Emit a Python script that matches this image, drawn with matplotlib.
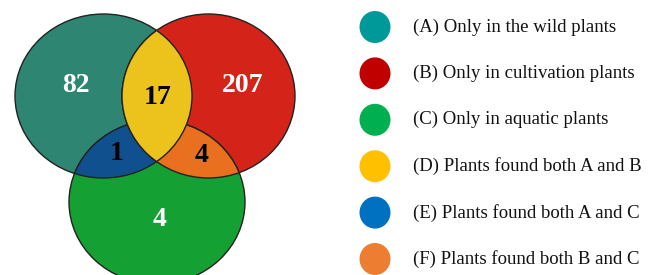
import matplotlib.pyplot as plt
from matplotlib.patches import Ellipse

# region counts and colours
regions = ["A", "B", "C", "AB", "AC", "BC"]
counts = [82, 207, 4, 17, 1, 4]
region_colors = ["#2e8571", "#d42319", "#14a032", "#ecc31c", "#11508f", "#e8701e"]
count_colors = ["white", "white", "white", "black", "black", "black"]

legend_labels = [
    "(A) Only in the wild plants",
    "(B) Only in cultivation plants",
    "(C) Only in aquatic plants",
    "(D) Plants found both A and B",
    "(E) Plants found both A and C",
    "(F) Plants found both B and C",
]
legend_colors = ["#009999", "#c00000", "#00b050", "#ffc000", "#0070c0", "#ed7d31"]

W, H = 656, 275
fig = plt.figure(figsize=(W / 100, H / 100), dpi=100)
ax = fig.add_axes([0, 0, 1, 1])
ax.set_xlim(0, W)
ax.set_ylim(H, 0)
ax.axis("off")

# ellipse geometry in pixels (centre x, centre y, width, height)
geo = {"A": (103.5, 96, 177, 164), "B": (208.5, 96, 173, 164), "C": (157, 202, 176, 164)}
edge = "#222222"

def ell(name, **kw):
    x, y, w, h = geo[name]
    p = Ellipse((x, y), w, h, **kw)
    ax.add_patch(p)
    return p

col = dict(zip(regions, region_colors))
for n in ["A", "B", "C"]:
    ell(n, facecolor=col[n], edgecolor=edge, lw=1)

# pairwise overlaps: fill one ellipse clipped by the other
for a, b, key in [("A", "C", "AC"), ("B", "C", "BC"), ("A", "B", "AB")]:
    clip = ell(b, facecolor="none", edgecolor="none", lw=0)
    p = ell(a, facecolor=col[key], edgecolor=edge, lw=1)
    p.set_clip_path(clip)
    clip2 = ell(a, facecolor="none", edgecolor="none", lw=0)
    q = ell(b, facecolor="none", edgecolor=edge, lw=1)
    q.set_clip_path(clip2)

label_pos = {"A": (76, 85), "B": (243, 85), "C": (160, 220),
             "AB": (158, 97), "AC": (117, 154), "BC": (202, 155)}
for key, n, c in zip(regions, counts, count_colors):
    x, y = label_pos[key]
    ax.text(x, y, str(n), ha="center", va="center", color=c, fontsize=20,
            fontweight="bold", family="Liberation Serif")

# legend
for i, (lab, c) in enumerate(zip(legend_labels, legend_colors)):
    y = 27 + i * 46.4
    ax.add_patch(Ellipse((375, y), 31, 32, facecolor=c, edgecolor="none"))
    ax.text(413, y, lab, ha="left", va="center", fontsize=13.5,
            family="Liberation Serif", color="#111111")

fig.savefig("out.png", dpi=100)
